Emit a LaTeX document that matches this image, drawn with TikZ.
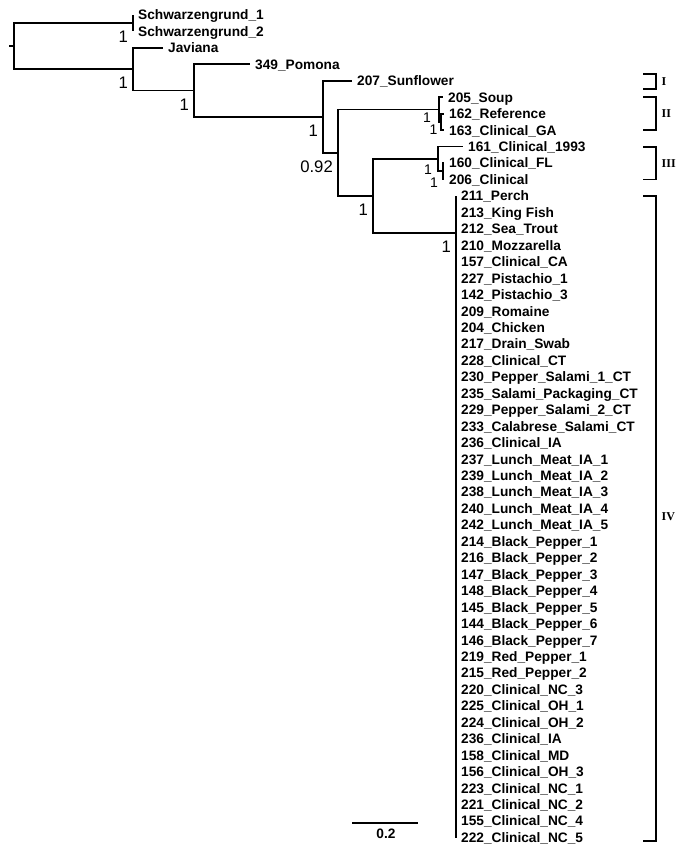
\documentclass[tikz,border=0pt]{standalone}
\usepackage{fontspec}
\setmainfont{Liberation Sans}
\newfontfamily\romfont{Liberation Serif}
\usetikzlibrary{positioning}

\begin{document}
\begin{tikzpicture}[
  x=1pt, y=-1pt,
  br/.style={line width=1.7pt},
  brk/.style={line width=1.4pt},
  leaf/.style={anchor=west, inner xsep=5pt, inner ysep=0pt, text height=9.8pt, text depth=0pt,
               font=\fontsize{13.7}{14}\selectfont\bfseries},
  supp/.style={anchor=east, inner sep=0pt, text height=12pt, text depth=0pt,
               font=\fontsize{16.7}{17}\selectfont},
  suppsm/.style={supp, text height=10pt, font=\fontsize{14}{14}\selectfont},
  clade/.style={anchor=west, inner sep=0pt, font=\romfont\fontsize{12}{12}\selectfont\bfseries}
]
  \useasboundingbox (0,0) rectangle (685,853);

  % Internal nodes
  \coordinate (stub)   at (9,46.2);
  \coordinate (root)   at (14,46.2);
  \coordinate (schw)   at (133,23.2);
  \coordinate (core)   at (133,69.25);
  \coordinate (pomo)   at (194,90.6);
  \coordinate (sunf)   at (323,116.8);
  \coordinate (grp)    at (338,152.8);
  \coordinate (cII)    at (439,109.6);
  \coordinate (cIIin)  at (441,121.9);
  \coordinate (cIIIIV) at (373,196);
  \coordinate (cIII)   at (438,158.95);
  \coordinate (cIIIin) at (443,171.3);
  \coordinate (cIV)    at (456,233);

  % Leaves
  \node[leaf] (schw1)  at (133,15)     {Schwarzengrund\_1};
  \node[leaf] (schw2)  at (133,31.45)  {Schwarzengrund\_2};
  \node[leaf] (jav)    at (163,47.9)   {Javiana};
  \node[leaf] (pomona) at (250,64.35)  {349\_Pomona};
  \node[leaf] (sunfl)  at (352,80.8)   {207\_Sunflower};
  \node[leaf] (soup)   at (443,97.25)  {205\_Soup};
  \node[leaf] (ref)    at (444,113.7)  {162\_Reference};
  \node[leaf] (ga)     at (444,130.15) {163\_Clinical\_GA};
  \node[leaf] (c1993)  at (463,146.6)  {161\_Clinical\_1993};
  \node[leaf] (fl)     at (444,163.05) {160\_Clinical\_FL};
  \node[leaf] (c206)   at (444,179.5)  {206\_Clinical};

  % Branches
  \draw[br] (stub) -- (root);
  \foreach \p/\c in {root/schw, root/core, schw/schw1.west, schw/schw2.west,
                     core/jav.west, core/pomo, pomo/pomona.west, pomo/sunf,
                     sunf/sunfl.west, sunf/grp, grp/cII, grp/cIIIIV,
                     cII/soup.west, cII/cIIin, cIIin/ref.west, cIIin/ga.west,
                     cIIIIV/cIII, cIIIIV/cIV, cIII/c1993.west, cIII/cIIIin,
                     cIIIin/fl.west, cIIIin/c206.west}
    \draw[br] (\p) |- (\c);

  % Clade IV
  \foreach \lbl [count=\i from 11] in {211\_Perch, 213\_King Fish, 212\_Sea\_Trout,
      210\_Mozzarella, 157\_Clinical\_CA, 227\_Pistachio\_1, 142\_Pistachio\_3,
      209\_Romaine, 204\_Chicken, 217\_Drain\_Swab, 228\_Clinical\_CT,
      230\_Pepper\_Salami\_1\_CT, 235\_Salami\_Packaging\_CT, 229\_Pepper\_Salami\_2\_CT,
      233\_Calabrese\_Salami\_CT, 236\_Clinical\_IA, 237\_Lunch\_Meat\_IA\_1,
      239\_Lunch\_Meat\_IA\_2, 238\_Lunch\_Meat\_IA\_3, 240\_Lunch\_Meat\_IA\_4,
      242\_Lunch\_Meat\_IA\_5, 214\_Black\_Pepper\_1, 216\_Black\_Pepper\_2,
      147\_Black\_Pepper\_3, 148\_Black\_Pepper\_4, 145\_Black\_Pepper\_5,
      144\_Black\_Pepper\_6, 146\_Black\_Pepper\_7, 219\_Red\_Pepper\_1,
      215\_Red\_Pepper\_2, 220\_Clinical\_NC\_3, 225\_Clinical\_OH\_1,
      224\_Clinical\_OH\_2, 236\_Clinical\_IA, 158\_Clinical\_MD, 156\_Clinical\_OH\_3,
      223\_Clinical\_NC\_1, 221\_Clinical\_NC\_2, 155\_Clinical\_NC\_4, 222\_Clinical\_NC\_5} {
    \node[leaf] (iv\i) at (456,{15+16.45*\i}) {\lbl};
    \draw[br] (cIV) |- (iv\i.west);
  }

  % Support values
  \foreach \n in {schw, core, pomo, sunf, cIIIIV, cIV}
    \node[supp] (s\n) at ([shift={(-5,13.5)}]\n) {1};
  \node[supp] (sgrp) at ([shift={(-5,13.5)}]grp) {0.92};
  \node[suppsm] (scII)    at (431,118)   {1};
  \node[suppsm] (scIIin)  at (437.5,130) {1};
  \node[suppsm] (scIII)   at (432,170)   {1};
  \node[suppsm] (scIIIin) at (438,182)   {1};

  % Clade brackets
  \draw[brk] (643,74) -| (656,89) -- (643,89);
  \draw[brk] (643,97) -| (656,130) -- (643,130);
  \draw[brk] (643,147) -| (656,179.5) -- (643,179.5);
  \draw[brk] (643,196) -| (656,841) -- (643,841);
  \node[clade] (kI)   at (661.5,82)    {I};
  \node[clade] (kII)  at (661.5,113.5) {II};
  \node[clade] (kIII) at (661.5,164)   {III};
  \node[clade] (kIV)  at (661.5,517)   {IV};

  % Scale bar
  \coordinate (sbl) at (352,823);
  \coordinate (sbr) at (418,823);
  \draw[br] (sbl) -- (sbr);
  \node[leaf, anchor=center, inner xsep=0pt] (sbt) at (386,834) {0.2};
\end{tikzpicture}
\end{document}
